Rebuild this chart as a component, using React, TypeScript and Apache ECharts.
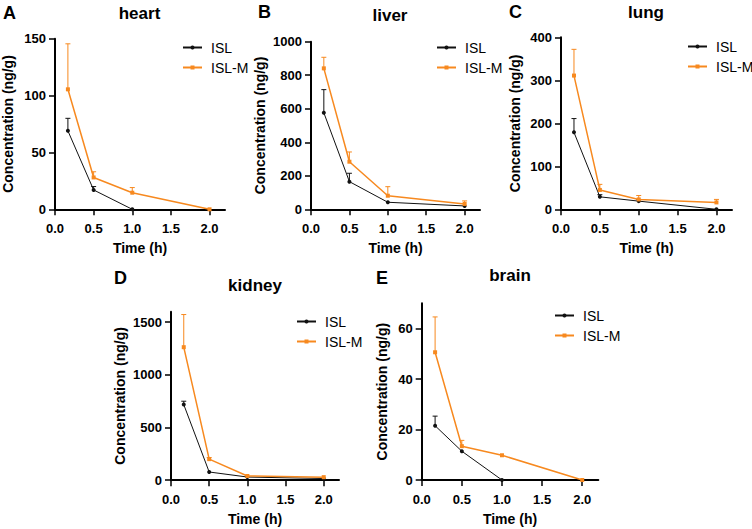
import React, { useEffect, useRef } from 'react';
import * as echarts from 'echarts';

// ---- data ----
const times = [0.167, 0.5, 1, 2];
const organs = ['heart', 'liver', 'lung', 'kidney', 'brain'];
const letters = ['A', 'B', 'C', 'D', 'E'];
const seriesNames = ['ISL', 'ISL-M'];

const heartISL = [69, 17, 0, null];
const heartISLErr = [11, 3, 0, 0];
const heartISLM = [105.5, 28, 14.6, 0];
const heartISLMErr = [40, 5, 4.5, 0];

const liverISL = [576, 165, 42, 20];
const liverISLErr = [138, 50, 0, 0];
const liverISLM = [841, 284, 81, 32];
const liverISLMErr = [66, 58, 54, 18];

const lungISL = [179, 29, 19, 0];
const lungISLErr = [32, 5, 4, 0];
const lungISLM = [311, 45, 23, 16];
const lungISLMErr = [61, 13, 9, 7];

const kidneyISL = [718, 78, 30, 16];
const kidneyISLErr = [32, 0, 0, 0];
const kidneyISLM = [1263, 200, 40, 29];
const kidneyISLMErr = [310, 15, 0, 0];

const brainISL = [21.5, 11.4, 0, null];
const brainISLErr = [3.8, 0, 0, 0];
const brainISLM = [50.6, 13.4, 9.8, 0];
const brainISLMErr = [14, 2.3, 0, 0];

const xTicks = [0, 0.5, 1, 1.5, 2];
const yTicksHeart = [0, 50, 100, 150];
const yTicksLiver = [0, 200, 400, 600, 800, 1000];
const yTicksLung = [0, 100, 200, 300, 400];
const yTicksKidney = [0, 500, 1000, 1500];
const yTicksBrain = [0, 20, 40, 60];

const panelData = [
  { isl: heartISL, islErr: heartISLErr, islm: heartISLM, islmErr: heartISLMErr, yTicks: yTicksHeart, yMax: 150 },
  { isl: liverISL, islErr: liverISLErr, islm: liverISLM, islmErr: liverISLMErr, yTicks: yTicksLiver, yMax: 1000 },
  { isl: lungISL, islErr: lungISLErr, islm: lungISLM, islmErr: lungISLMErr, yTicks: yTicksLung, yMax: 400 },
  { isl: kidneyISL, islErr: kidneyISLErr, islm: kidneyISLM, islmErr: kidneyISLMErr, yTicks: yTicksKidney, yMax: 1600 },
  { isl: brainISL, islErr: brainISLErr, islm: brainISLM, islmErr: brainISLMErr, yTicks: yTicksBrain, yMax: 70 },
];

// ---- layout (px) ----
const layout = [
  { left: 54, top: 38.7, width: 171, height: 170.6, nameGap: 40, legendX: 177, legendY: 35, titleX: 139.5, titleY: 13, letterX: 3, letterY: 13 },
  { left: 311, top: 41.7, width: 169, height: 167.6, nameGap: 44, legendX: 431, legendY: 35, titleX: 390, titleY: 15, letterX: 258, letterY: 12 },
  { left: 561, top: 37.3, width: 171, height: 172, nameGap: 39, legendX: 682, legendY: 34, titleX: 646, titleY: 12, letterX: 509, letterY: 12 },
  { left: 171, top: 311.7, width: 168, height: 168.5, nameGap: 44, legendX: 291, legendY: 309, titleX: 255, titleY: 285, letterX: 114, letterY: 278 },
  { left: 421.7, top: 303.3, width: 176.6, height: 176.7, nameGap: 33, legendX: 549, legendY: 303, titleX: 510, titleY: 275, letterX: 376, letterY: 278 },
];

const FONT = '"Liberation Sans", Arial, Helvetica, sans-serif';
const BLACK = '#111111';
const ORANGE = '#f7891f';

function toPoints(vals: (number | null)[]) {
  return times.map((t, i) => (vals[i] == null ? null : [t, vals[i] as number])).filter((d) => d !== null);
}

function errSeries(idx: number, vals: (number | null)[], errs: number[], color: string, name: string) {
  return {
    type: 'custom',
    name,
    xAxisIndex: idx,
    yAxisIndex: idx,
    silent: true,
    z: 1,
    encode: { x: 0, y: 1 },
    data: times
      .map((t, i) => [t, vals[i], errs[i]])
      .filter((d) => d[1] != null && (d[2] as number) > 0),
    renderItem: (params: any, api: any) => {
      const x = api.value(0);
      const y = api.value(1);
      const e = api.value(2);
      const p0 = api.coord([x, y]);
      const p1 = api.coord([x, y + e]);
      return {
        type: 'group',
        children: [
          { type: 'line', shape: { x1: p0[0], y1: p0[1], x2: p1[0], y2: p1[1] }, style: { stroke: color, lineWidth: 1 } },
          { type: 'line', shape: { x1: p1[0] - 2.5, y1: p1[1], x2: p1[0] + 2.5, y2: p1[1] }, style: { stroke: color, lineWidth: 1 } },
        ],
      };
    },
  };
}

export default function App() {
  const ref = useRef<HTMLDivElement>(null);

  useEffect(() => {
    if (!ref.current) return;
    const chart = echarts.init(ref.current, undefined, { renderer: 'svg' });

    const grid: any[] = [];
    const xAxis: any[] = [];
    const yAxis: any[] = [];
    const series: any[] = [];
    const legend: any[] = [];
    const graphics: any[] = [];

    panelData.forEach((p, i) => {
      const L = layout[i];
      grid.push({ left: L.left, top: L.top, width: L.width, height: L.height, containLabel: false });
      xAxis.push({
        gridIndex: i,
        type: 'value',
        min: 0,
        max: 2.2,
        name: 'Time (h)',
        nameLocation: 'middle',
        nameGap: 32,
        nameTextStyle: { fontFamily: FONT, fontWeight: 'bold', fontSize: 14, color: '#000' },
        axisLine: { show: true, onZero: false, lineStyle: { color: '#000', width: 2 } },
        axisTick: { show: true, length: 6, customValues: xTicks, lineStyle: { color: '#000', width: 1.5 } },
        axisLabel: {
          customValues: xTicks,
          margin: 13,
          fontFamily: FONT,
          fontWeight: 'bold',
          fontSize: 13,
          color: '#000',
          formatter: (v: number) => v.toFixed(1),
        },
        splitLine: { show: false },
      });
      yAxis.push({
        gridIndex: i,
        type: 'value',
        min: 0,
        max: p.yMax,
        name: 'Concentration (ng/g)',
        nameLocation: 'middle',
        nameGap: L.nameGap,
        nameTextStyle: { fontFamily: FONT, fontWeight: 'bold', fontSize: 14, color: '#000' },
        axisLine: { show: true, onZero: false, lineStyle: { color: '#000', width: 2 } },
        axisTick: { show: true, length: 6, customValues: p.yTicks, lineStyle: { color: '#000', width: 1.5 } },
        axisLabel: {
          customValues: p.yTicks,
          margin: 9,
          fontFamily: FONT,
          fontWeight: 'bold',
          fontSize: 13,
          color: '#000',
          formatter: (v: number) => String(v),
        },
        splitLine: { show: false },
      });

      series.push(errSeries(i, p.isl, p.islErr, BLACK, 'ISL err'));
      series.push(errSeries(i, p.islm, p.islmErr, ORANGE, 'ISL-M err'));
      series.push({
        type: 'line',
        name: 'ISL',
        xAxisIndex: i,
        yAxisIndex: i,
        data: toPoints(p.isl),
        symbol: 'circle',
        symbolSize: 4,
        z: 3,
        lineStyle: { color: BLACK, width: 1 },
        itemStyle: { color: BLACK },
      });
      series.push({
        type: 'line',
        name: 'ISL-M',
        xAxisIndex: i,
        yAxisIndex: i,
        data: toPoints(p.islm),
        symbol: 'rect',
        symbolSize: 4,
        z: 4,
        lineStyle: { color: ORANGE, width: 1.5 },
        itemStyle: { color: ORANGE },
      });

      legend.push({
        data: seriesNames,
        orient: 'vertical',
        left: L.legendX,
        top: L.legendY,
        itemWidth: 19,
        itemHeight: 5,
        itemGap: 5,
        selectedMode: false,
        textStyle: { fontFamily: FONT, fontSize: 14, color: '#000', lineHeight: 15, padding: [0, 0, 0, 4] },
      });

      graphics.push({
        type: 'text',
        x: L.titleX,
        y: L.titleY,
        style: { text: organs[i], fontFamily: FONT, fontWeight: 'bold', fontSize: 17, fill: '#000', align: 'center', verticalAlign: 'middle' },
      });
      graphics.push({
        type: 'text',
        x: L.letterX,
        y: L.letterY,
        style: { text: letters[i], fontFamily: FONT, fontWeight: 'bold', fontSize: 18, fill: '#000', align: 'left', verticalAlign: 'middle' },
      });
    });

    chart.setOption({
      animation: false,
      backgroundColor: '#ffffff',
      grid,
      xAxis,
      yAxis,
      series,
      legend,
      graphic: graphics,
    });

    return () => chart.dispose();
  }, []);

  return (
    <div
      ref={ref}
      style={{ position: 'fixed', left: 0, top: 0, width: 752, height: 529, background: '#fff' }}
    />
  );
}
